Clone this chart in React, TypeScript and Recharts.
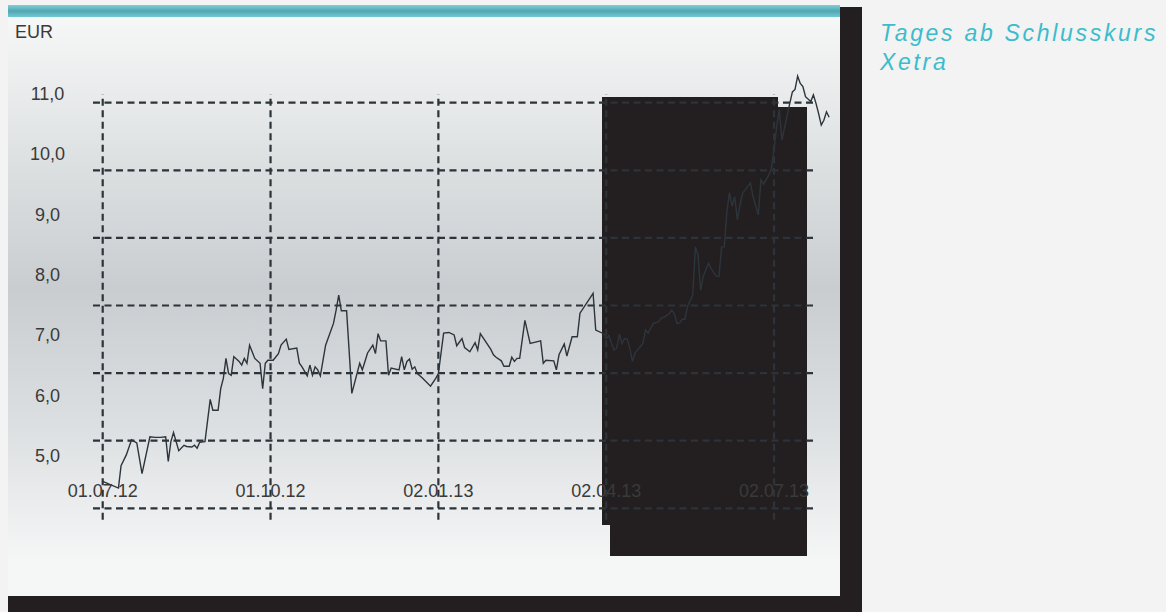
import { LineChart, Line, XAxis, YAxis, ReferenceLine } from "recharts";

// trading days since 01.07.12 and Xetra closing price (EUR)
const days = [
  0, 6, 7, 9, 11, 13, 15, 18, 20, 22,
  24, 25, 26, 27, 29, 31, 32, 34, 35, 36,
  37, 39, 41, 42, 44, 45, 46, 47, 48, 49,
  50, 52, 53, 54, 55, 56, 58, 60, 61, 62,
  63, 65, 67, 68, 70, 71, 74, 75, 76, 78,
  79, 80, 81, 82, 83, 85, 88, 89, 90, 91,
  93, 95, 98, 99, 100, 101, 103, 104, 105, 106,
  108, 109, 110, 113, 114, 115, 116, 117, 118, 119,
  120, 122, 125, 127, 128, 130, 132, 134, 135, 137,
  138, 140, 142, 143, 144, 148, 149, 150, 152, 153,
  155, 156, 157, 158, 159, 161, 163, 167, 168, 169,
  172, 173, 174, 176, 177, 179, 181, 182, 187, 188,
  191, 192, 193, 194, 195, 196, 197, 198, 199, 200,
  201, 202, 203, 206, 207, 208, 210, 212, 213, 214,
  216, 217, 218, 219, 220, 221, 222, 223, 225, 226,
  227, 228, 229, 231, 232, 234, 235, 236, 237, 238,
  239, 240, 241, 242, 243, 244, 247, 248, 250, 251,
  252, 254, 255, 256, 257, 258, 259, 262, 263, 264,
  265, 266, 267, 268, 270, 271, 272, 273, 274, 275,
  276, 277,
];

const closes = [
  4.57, 4.46, 4.83, 5.01, 5.26, 5.21, 4.7, 5.31, 5.3, 5.3,
  5.31, 4.9, 5.23, 5.38, 5.08, 5.17, 5.15, 5.14, 5.17, 5.12,
  5.22, 5.23, 5.93, 5.75, 5.75, 6.11, 6.28, 6.61, 6.36, 6.33,
  6.64, 6.56, 6.5, 6.61, 6.53, 6.83, 6.61, 6.53, 6.11, 6.53,
  6.58, 6.58, 6.69, 6.83, 6.93, 6.76, 6.78, 6.53, 6.47, 6.32,
  6.5, 6.33, 6.47, 6.42, 6.32, 6.83, 7.19, 7.41, 7.66, 7.4,
  7.4, 6.03, 6.53, 6.42, 6.56, 6.7, 6.83, 6.69, 7.02, 6.9,
  6.9, 6.33, 6.45, 6.42, 6.64, 6.42, 6.56, 6.6, 6.43, 6.47,
  6.36, 6.28, 6.15, 6.28, 6.36, 7.03, 7.04, 7.0, 6.82, 6.94,
  6.79, 6.72, 6.87, 6.75, 7.02, 6.76, 6.67, 6.63, 6.57, 6.48,
  6.48, 6.63, 6.56, 6.61, 6.61, 7.24, 6.86, 6.9, 6.53, 6.58,
  6.57, 6.42, 6.67, 6.85, 6.65, 6.97, 6.97, 7.36, 7.69, 7.08,
  7.02, 6.94, 6.99, 6.86, 6.75, 6.78, 7.01, 6.86, 6.94, 6.93,
  6.78, 6.56, 6.7, 6.86, 7.08, 7.03, 7.19, 7.22, 7.28, 7.29,
  7.35, 7.41, 7.35, 7.19, 7.2, 7.26, 7.26, 7.47, 7.66, 8.46,
  8.33, 7.74, 7.97, 8.19, 8.1, 7.97, 7.97, 8.46, 8.46, 9.04,
  9.36, 9.13, 9.29, 8.91, 9.15, 9.35, 9.52, 9.29, 8.99, 9.57,
  9.5, 9.65, 9.76, 10.08, 10.45, 10.74, 10.23, 10.84, 11.03, 11.07,
  11.29, 11.17, 11.12, 10.95, 10.87, 10.98, 10.84, 10.67, 10.48, 10.56,
  10.7, 10.61,
];

const quarterTicks = [0, 64, 128, 192, 256];
const quarterLabels = ["01.07.12", "01.10.12", "02.01.13", "02.04.13", "02.07.13"];
const priceTicks = [5, 6, 7, 8, 9, 10, 11];
const gridSteps = [0, 1, 2, 3, 4, 5, 6];

const data = days.map((day, i) => ({ day, close: closes[i] }));

const FONT = "'Liberation Sans', Arial, Helvetica, sans-serif";
const GRID = "#2c3339";
const INK = "#2c353c";
const BLACK = "#231f20";

const DateTick = ({ x, payload }: any) => (
  <text x={x} y={497} textAnchor="middle" fill="#3a3a3a" fontSize={18} fontFamily={FONT}>
    {quarterLabels[quarterTicks.indexOf(payload.value)]}
  </text>
);

const PriceTick = ({ y, payload }: any) => (
  <text x={47.5} y={y + 6.5} textAnchor="middle" fill="#3a3a3a" fontSize={18} fontFamily={FONT}>
    {payload.value.toFixed(1).replace(".", ",")}
  </text>
);

const abs = (left: number, top: number, width: number, height: number, background: string) => ({
  position: "absolute" as const,
  left,
  top,
  width,
  height,
  background,
});

export default function App() {
  return (
    <div style={{ ...abs(0, 0, 1166, 612, "#f2f3f2"), overflow: "hidden", fontFamily: FONT }}>
      <div
        style={abs(
          8,
          5,
          832,
          591,
          "linear-gradient(to bottom, #f6f7f7 2%, #dfe2e3 25%, #c9cdd0 48%, #dde0e2 72%, #f5f6f6 94%)"
        )}
      />
      <div style={abs(8, 5, 832, 12, "linear-gradient(to bottom, #7dd0d8 0%, #52a6b1 50%, #72c9d2 100%)")} />
      <div style={abs(602, 97, 176, 428, BLACK)} />
      <div style={abs(610, 107, 197, 449, BLACK)} />
      <div style={abs(8, 596, 832, 16, BLACK)} />
      <div style={abs(840, 7, 22, 605, BLACK)} />

      <div style={{ position: "absolute", left: 15, top: 23, fontSize: 18, lineHeight: "18px", color: "#3a3a3a" }}>
        EUR
      </div>
      <div
        style={{
          position: "absolute",
          left: 880,
          top: 19,
          fontSize: 23,
          lineHeight: "29px",
          letterSpacing: 2.7,
          fontStyle: "italic",
          color: "#3bbccc",
          whiteSpace: "nowrap",
        }}
      >
        Tages ab Schlusskurs
        <br />
        Xetra
      </div>

      <div style={{ position: "absolute", left: 0, top: 0 }}>
        <LineChart width={840} height={596} data={data} margin={{ top: 70, right: 8, bottom: 0, left: 0 }}>
          <XAxis
            dataKey="day"
            type="number"
            domain={[-3.7, 278.1]}
            allowDataOverflow
            ticks={quarterTicks}
            height={74}
            axisLine={false}
            tickLine={false}
            tick={DateTick}
          />
          <YAxis
            yAxisId="eur"
            type="number"
            domain={[3.897, 11.393]}
            allowDataOverflow
            ticks={priceTicks}
            width={93}
            axisLine={false}
            tickLine={false}
            tick={PriceTick}
          />
          <YAxis yAxisId="grid" type="number" domain={[-0.2027, 6.484]} allowDataOverflow hide />
          {quarterTicks.map((t) => (
            <ReferenceLine
              key={`v${t}`}
              yAxisId="grid"
              ifOverflow="visible"
              segment={[
                { x: t, y: -0.17 },
                { x: t, y: 6.13 },
              ]}
              stroke={GRID}
              strokeWidth={2.2}
              strokeDasharray="7 4.5"
            />
          ))}
          {gridSteps.map((k) => (
            <ReferenceLine
              key={`h${k}`}
              yAxisId="grid"
              ifOverflow="visible"
              segment={[
                { x: -3.7, y: k },
                { x: 272, y: k },
              ]}
              stroke={GRID}
              strokeWidth={2.2}
              strokeDasharray="7 4.5"
            />
          ))}
          <Line
            yAxisId="eur"
            type="linear"
            dataKey="close"
            stroke={INK}
            strokeWidth={1.4}
            dot={false}
            activeDot={false}
            isAnimationActive={false}
          />
        </LineChart>
      </div>
    </div>
  );
}
